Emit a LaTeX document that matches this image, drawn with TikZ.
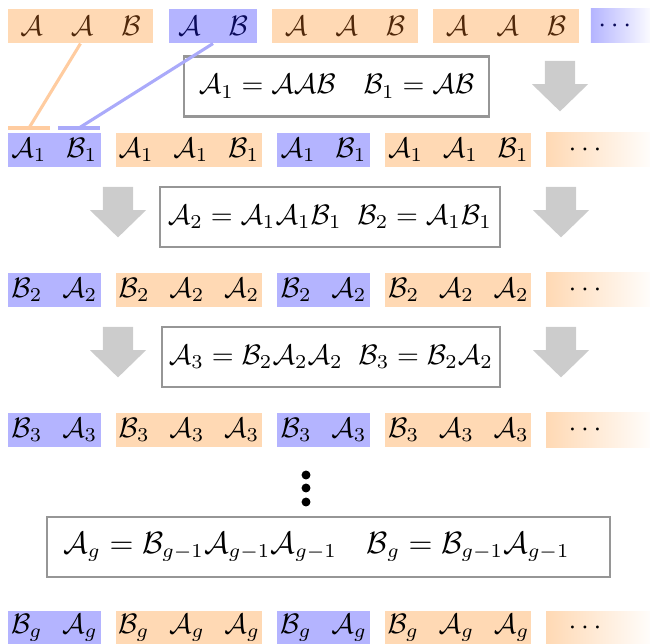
\documentclass[tikz,border=0pt]{standalone}
\usetikzlibrary{calc}
\definecolor{AClr}{RGB}{255,217,180}
\definecolor{BClr}{RGB}{180,180,255}
\definecolor{ALineClr}{RGB}{255,204,160}
\definecolor{BLineClr}{RGB}{170,170,250}
\definecolor{ATxtClr}{RGB}{80,40,10}
\definecolor{BTxtClr}{RGB}{10,10,90}
\definecolor{ArrowClr}{RGB}{204,204,204}
\definecolor{FrameClr}{RGB}{150,150,150}
\newcommand{\cA}{\mathcal{A}}
\newcommand{\cB}{\mathcal{B}}
\newcommand{\gp}{\hspace{7pt}}
% gray arrow pointing down, #1 = top centre
\newcommand{\grayarrow}[1]{%
  \fill[ArrowClr] ($(#1)+(-0.19,0)$) -- ($(#1)+(0.19,0)$) -- ($(#1)+(0.19,-0.29)$)
    -- ($(#1)+(0.35,-0.29)$) -- ($(#1)+(0,-0.63)$) -- ($(#1)+(-0.35,-0.29)$)
    -- ($(#1)+(-0.19,-0.29)$) -- cycle;}

\begin{document}
\begin{tikzpicture}[
  grp/.style={minimum height=0.425cm,inner sep=0pt},
  agrp/.style={grp,fill=AClr,minimum width=1.825cm},
  bgrp/.style={grp,fill=BClr,minimum width=1.1625cm},
  fadegrp/.style={grp,left color=AClr,right color=AClr!6,minimum width=1.3cm},
  rule/.style={draw=FrameClr,line width=0.8pt,fill=white,minimum height=0.75cm,inner sep=0pt}]
\useasboundingbox (0,0) rectangle (8.125,-8.0375);

% generation 0
\node[agrp,text=ATxtClr,minimum width=1.8125cm] (r0a) at (1.006,-0.325) {$\cA\quad\cA\quad\cB$};
\node[bgrp,text=BTxtClr,minimum width=1.1cm] (r0b) at (2.6625,-0.325) {$\cA\quad\cB$};
\node[agrp,text=ATxtClr] (r0c) at (4.3125,-0.325) {$\cA\quad\cA\quad\cB$};
\node[agrp,text=ATxtClr] (r0d) at (6.325,-0.325) {$\cA\quad\cA\quad\cB$};
\node[grp,left color=BClr,right color=BClr!6,minimum width=0.7375cm,text=BTxtClr] (r0e) at (7.756,-0.325) {$\cdots$\hspace{0.14cm}\mbox{}};

\node[rule,minimum width=3.81cm] (rule1) at (4.206,-1.081)
  {$\cA_1=\cA\cA\cB\quad\cB_1=\cA\cB$};
\grayarrow{7.0,-0.7625}

% brackets over the first two blocks
\draw[ALineClr,line width=1.1pt] (0.1,-1.6) -- (0.625,-1.6) coordinate[pos=0.5] (abar);
\draw[BLineClr,line width=1.1pt] (0.725,-1.6) -- (1.25,-1.6) coordinate[pos=0.5] (bbar);
\draw[ALineClr,line width=1.1pt] (r0a.south) -- (abar);
\draw[BLineClr,line width=1.1pt] (r0b.south) -- (bbar);

% generation 1
\node[bgrp] (r1a) at (0.68,-1.875) {$\cA_1\gp\cB_1$};
\node[agrp] (r1b) at (2.3625,-1.875) {$\cA_1\gp\cA_1\gp\cB_1$};
\node[bgrp] (r1c) at (4.044,-1.875) {$\cA_1\gp\cB_1$};
\node[agrp] (r1d) at (5.731,-1.875) {$\cA_1\gp\cA_1\gp\cB_1$};
\node[fadegrp] (r1e) at (7.475,-1.875) {$\cdots$\hspace{0.325cm}\mbox{}};

\node[rule,minimum width=4.25cm] (rule2) at (4.125,-2.7125)
  {$\cA_2=\cA_1\cA_1\cB_1\;\;\cB_2=\cA_1\cB_1$};
\grayarrow{1.475,-2.3375}
\grayarrow{7.0125,-2.3375}

% generation 2
\node[bgrp] (r2a) at (0.68,-3.625) {$\cB_2\gp\cA_2$};
\node[agrp] (r2b) at (2.3625,-3.625) {$\cB_2\gp\cA_2\gp\cA_2$};
\node[bgrp] (r2c) at (4.044,-3.625) {$\cB_2\gp\cA_2$};
\node[agrp] (r2d) at (5.731,-3.625) {$\cB_2\gp\cA_2\gp\cA_2$};
\node[fadegrp] (r2e) at (7.475,-3.625) {$\cdots$\hspace{0.325cm}\mbox{}};

\node[rule,minimum width=4.225cm] (rule3) at (4.1375,-4.4625)
  {$\cA_3=\cB_2\cA_2\cA_2\;\;\cB_3=\cB_2\cA_2$};
\grayarrow{1.475,-4.0875}
\grayarrow{7.0125,-4.0875}

% generation 3
\node[bgrp] (r3a) at (0.68,-5.375) {$\cB_3\gp\cA_3$};
\node[agrp] (r3b) at (2.3625,-5.375) {$\cB_3\gp\cA_3\gp\cA_3$};
\node[bgrp] (r3c) at (4.044,-5.375) {$\cB_3\gp\cA_3$};
\node[agrp] (r3d) at (5.731,-5.375) {$\cB_3\gp\cA_3\gp\cA_3$};
\node[fadegrp] (r3e) at (7.475,-5.375) {$\cdots$\hspace{0.325cm}\mbox{}};

% vertical dots
\fill (3.825,-5.9375) circle (0.056);
\fill (3.825,-6.1) circle (0.056);
\fill (3.825,-6.275) circle (0.056);

\node[rule,minimum width=7.04cm,font=\fontsize{10.6}{13}\selectfont] (ruleg) at (4.106,-6.8375)
  {$\cA_g=\cB_{g-1}\cA_{g-1}\cA_{g-1}\quad\cB_g=\cB_{g-1}\cA_{g-1}$\hspace{0.3cm}\mbox{}};

% generation g
\node[bgrp] (rga) at (0.68,-7.85) {$\cB_g\gp\cA_g$};
\node[agrp] (rgb) at (2.3625,-7.85) {$\cB_g\gp\cA_g\gp\cA_g$};
\node[bgrp] (rgc) at (4.044,-7.85) {$\cB_g\gp\cA_g$};
\node[agrp] (rgd) at (5.731,-7.85) {$\cB_g\gp\cA_g\gp\cA_g$};
\node[fadegrp] (rge) at (7.475,-7.85) {$\cdots$\hspace{0.325cm}\mbox{}};

\end{tikzpicture}
\end{document}
